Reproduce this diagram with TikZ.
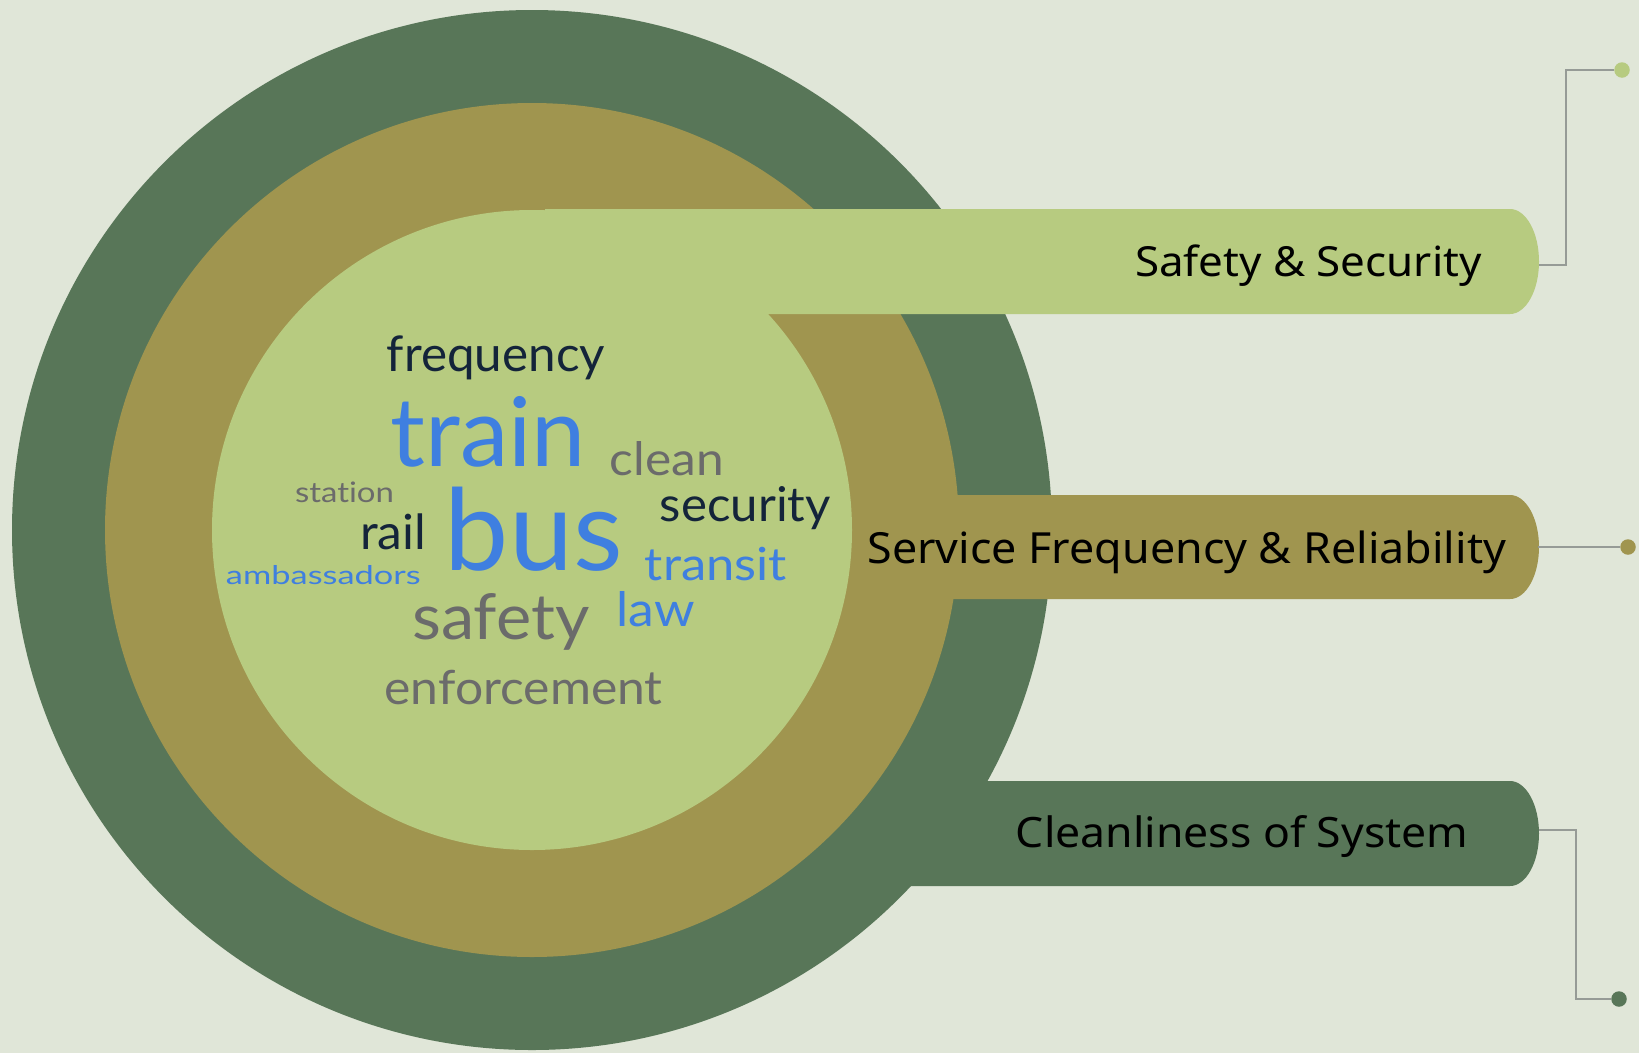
\documentclass[tikz,border=0pt]{standalone}
\usepackage{fontspec}
\usepackage{graphicx}
\setmainfont{Noto Sans}
\newfontfamily\cloudfont{Lato}[Ligatures={NoCommon,NoRare,NoDiscretionary}]
\definecolor{bgc}{HTML}{E0E6D8}
\definecolor{darkg}{HTML}{587658}
\definecolor{oliveg}{HTML}{A0954F}
\definecolor{lightg}{HTML}{B7CB80}
\definecolor{linegray}{HTML}{969B96}
\definecolor{blueW}{HTML}{3F7FE0}
\definecolor{navyW}{HTML}{14243A}
\definecolor{grayW}{HTML}{6B6B6B}
\newcommand{\cloudword}[3]{\resizebox{#1pt}{#2pt}{\cloudfont #3}}
\newcommand{\barword}[3]{\resizebox{#1pt}{#2pt}{#3}}
\newcommand{\roundbar}[3]{%
  \fill[#1] (545,#2) -- (1510,#2)
    .. controls (1526,#2) and (1539,{(#2+#3)/2-0.276*(#3-#2)}) .. (1539,{(#2+#3)/2})
    .. controls (1539,{(#2+#3)/2+0.276*(#3-#2)}) and (1526,#3) .. (1510,#3)
    -- (545,#3) -- cycle;}
\begin{document}
\begin{tikzpicture}[x=1pt,y=-1pt,
  conn/.style={draw=linegray, line width=1.8pt},
  dotnode/.style={circle, inner sep=0pt, minimum size=15.5pt},
  word/.style={inner sep=0pt, anchor=base},
  barlabel/.style={inner sep=0pt, anchor=base, text=black}]
\useasboundingbox (0,0) rectangle (1639,1053);
\fill[bgc] (0,0) rectangle (1639,1053);
% rings and bars
\fill[darkg] (532,530) circle[radius=520];
\roundbar{darkg}{781}{886}
\fill[oliveg] (532,530) circle[radius=427];
\roundbar{oliveg}{495}{599}
\fill[lightg] (532,530) circle[radius=320];
\roundbar{lightg}{209}{314}
% bar labels
\node[barlabel] (lab1) at (1308.35,276.7) {\barword{346.7}{31.7}{Safety \& Security}};
\node[barlabel] (lab2) at (1186.8,563.3) {\barword{638.4}{32.6}{Service Frequency \& Reliability}};
\node[barlabel] (lab3) at (1242.15,847.7) {\barword{452.3}{32}{Cleanliness of System}};
% word cloud
\node[word, text=navyW] (wfrequency) at (496,371.7) {\cloudword{218}{35.7}{frequency}};
\node[word, text=blueW] (wtrain) at (488.35,466.7) {\cloudword{195.3}{70}{train}};
\node[word, text=grayW] (wclean) at (667,475) {\cloudword{114}{34}{clean}};
\node[word, text=navyW] (wsecurity) at (745.35,521.7) {\cloudword{170.7}{35}{security}};
\node[word, text=blueW] (wtransit) at (716,580) {\cloudword{142}{33.3}{transit}};
\node[word, text=blueW] (wlaw) at (655.85,626.7) {\cloudword{78.3}{35}{law}};
\node[word, text=grayW] (wstation) at (344.5,502.3) {\cloudword{99}{20.6}{station}};
\node[word, text=navyW] (wrail) at (393,549) {\cloudword{66}{35.7}{rail}};
\node[word, text=blueW] (wamb) at (323.35,584) {\cloudword{194.7}{19}{ambassadors}};
\node[word, text=blueW] (wbus) at (533.85,570.7) {\cloudword{177.7}{83.4}{bus}};
\node[word, text=grayW] (wsafety) at (500.8,639.3) {\cloudword{177}{46}{safety}};
\node[word, text=grayW] (wenf) at (523.7,704.3) {\cloudword{278}{34.3}{enforcement}};
% connectors
\coordinate (tip1) at (1539,265);
\coordinate (bend1) at (1566,265);
\coordinate (tip2) at (1538,547);
\coordinate (tip3) at (1539,830);
\coordinate (bend3) at (1576,830);
\node[dotnode, fill=lightg] (dot1) at (1622,70) {};
\node[dotnode, fill=oliveg] (dot2) at (1628,547) {};
\node[dotnode, fill=darkg] (dot3) at (1619,999) {};
\draw[conn] (tip1) -- (bend1) |- (dot1);
\draw[conn] (tip2) -- (dot2);
\draw[conn] (tip3) -- (bend3) |- (dot3);
\end{tikzpicture}
\end{document}
